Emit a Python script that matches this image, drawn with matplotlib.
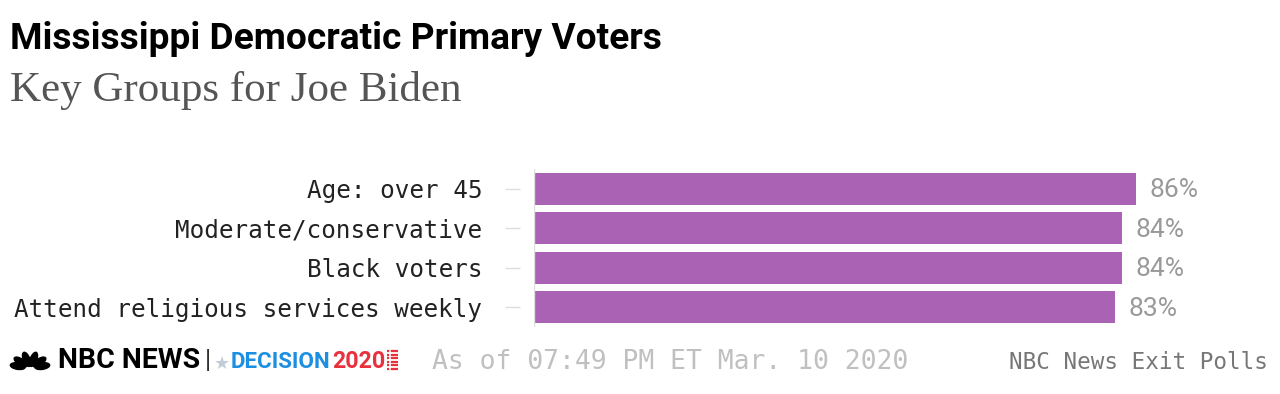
import numpy as np
import matplotlib
matplotlib.use('Agg')
import matplotlib.pyplot as plt
from matplotlib.patches import Ellipse

# --- data ---
categories = ['Age: over 45', 'Moderate/conservative', 'Black voters',
              'Attend religious services weekly']
values = [86, 84, 84, 83]
title = 'Mississippi Democratic Primary Voters'
subtitle = 'Key Groups for Joe Biden'
stamp = 'As of 07:49 PM ET Mar. 10 2020'
source = 'NBC News Exit Polls'

BAR = '#a962b4'
W, H = 1280, 394

fig = plt.figure(figsize=(W / 100, H / 100), dpi=100)
r = fig.canvas.get_renderer()


def fit(t, width):
    # scale the font so the text spans roughly `width` pixels
    w = t.get_window_extent(r).width
    t.set_fontsize(t.get_fontsize() * width / w)
    return t


# --- bars ---
ax = fig.add_axes([534 / W, 67 / H, 700 / W, 158 / H])
for s in ['top', 'right', 'bottom']:
    ax.spines[s].set_visible(False)
# spine position resets ticks, so do it before styling labels
ax.spines['left'].set_position(('outward', 10))
ax.spines['left'].set_visible(False)

y = np.arange(len(categories))
ax.barh(y, values, height=0.8, color=BAR)
ax.set_ylim(len(categories) - 0.5, -0.5)
ax.set_xlim(0, 100)
ax.set_yticks(y)
ax.set_yticklabels(categories, family='DejaVu Sans Mono', fontsize=17.5, color='#222222')
ax.tick_params(axis='y', length=10.8, width=1, color='#dddddd', pad=16.5)
ax.tick_params(axis='x', bottom=False, labelbottom=False)
ax.axvline(0, color='#dddddd', lw=1)

for i, v in enumerate(values):
    ax.annotate(f'{v}%', (v, i), xytext=(9.5, -1), textcoords='offset points',
                va='center', ha='left', fontsize=19, color='#999999', family='Roboto')

# --- titles ---
t = fig.text(10 / W, 1 - 49 / H, title, family='Roboto', weight='bold', fontsize=26,
             color='black', va='baseline')
fit(t, 654)
t = fig.text(10 / W, 1 - 101 / H, subtitle, family='Liberation Serif', fontsize=28,
             color='#555555', va='baseline')
fit(t, 451)

# --- footer ---
t = fig.text(432 / W, 1 - 369 / H, stamp, family='DejaVu Sans Mono', fontsize=19,
             color='#c0c0c0', va='baseline')
fit(t, 476)
t = fig.text(1268 / W, 1 - 369 / H, source, family='DejaVu Sans Mono', fontsize=16,
             color='#777777', va='baseline', ha='right')
fit(t, 259)

t = fig.text(58 / W, 1 - 368 / H, 'NBC NEWS', family='Roboto', weight='bold', fontsize=20,
             color='black', va='baseline')
fit(t, 142)
fig.text(205 / W, 1 - 368 / H, '|', family='Roboto', fontsize=18, color='#333333', va='baseline')
fig.text(214 / W, 1 - 369 / H, '★', family='DejaVu Sans', fontsize=13, color='#c0ccd8', va='baseline')
t = fig.text(231 / W, 1 - 368 / H, 'DECISION', family='Roboto', weight='bold', fontsize=20,
             color='#1d8fe1', va='baseline')
fit(t, 100)
t = fig.text(332 / W, 1 - 368 / H, '2020', family='Roboto', weight='bold', fontsize=20,
             color='#e8313d', va='baseline')
fit(t, 53)

# peacock and stripes, drawn in pixel coordinates
deco = fig.add_axes([0, 0, 1, 1])
deco.set_xlim(0, W)
deco.set_ylim(H, 0)
deco.axis('off')
cx, cy = 30, 368
for a in [168, 138, 106, 74, 42, 12]:
    rad = np.deg2rad(a)
    ang = np.arctan2(9 * np.sin(rad), 12.5 * np.cos(rad))
    deco.add_patch(Ellipse((cx + 12.5 * np.cos(rad), cy - 9 * np.sin(rad)), 15, 6.5,
                           angle=-np.rad2deg(ang), color='black'))
for yy in np.linspace(351, 369, 6):
    deco.plot([387, 398], [yy, yy], color='#e8313d', lw=1.6, solid_capstyle='butt')
deco.plot([390, 390], [351, 369], color='white', lw=1.2)

fig.savefig('out.png', dpi=100)
